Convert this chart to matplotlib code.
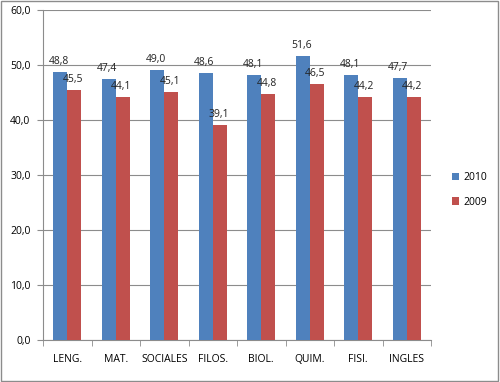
import matplotlib.pyplot as plt
import numpy as np
from matplotlib.patches import Rectangle

plt.rcParams['font.family'] = ['Open Sans', 'DejaVu Sans']

# data
categories = ['LENG.', 'MAT.', 'SOCIALES', 'FILOS.', 'BIOL.', 'QUIM.', 'FISI.', 'INGLES']
values_2010 = [48.8, 47.4, 49.0, 48.6, 48.1, 51.6, 48.1, 47.7]
values_2009 = [45.5, 44.1, 45.1, 39.1, 44.8, 46.5, 44.2, 44.2]
series_names = ['2010', '2009']
y_ticks = [0, 10, 20, 30, 40, 50, 60]

blue = '#4f81bd'
red = '#c0504d'


def fmt(v):
    return ('%.1f' % v).replace('.', ',')


def main():
    fig = plt.figure(figsize=(5, 3.82), dpi=100)
    ax = fig.add_axes([0.086, 0.11, 0.776, 0.864])

    x = np.arange(len(categories))
    w = 0.29
    b1 = ax.bar(x - w / 2, values_2010, w, color=blue, label=series_names[0], zorder=3)
    b2 = ax.bar(x + w / 2, values_2009, w, color=red, label=series_names[1], zorder=3)

    for bars, vals in ((b1, values_2010), (b2, values_2009)):
        for bar, v in zip(bars, vals):
            ax.text(bar.get_x() + bar.get_width() / 2 - 0.03, v + 0.9, fmt(v),
                    ha='center', va='bottom', fontsize=7.5, color='#222222', zorder=4)

    ax.set_xlim(-0.5, len(categories) - 0.5)
    ax.set_ylim(0, 60)
    ax.set_yticks(y_ticks)
    ax.set_yticklabels([fmt(t) for t in y_ticks])
    ax.set_xticks(x)
    ax.set_xticklabels(categories)
    ax.set_xticks(np.arange(len(categories) + 1) - 0.5, minor=True)

    ax.grid(axis='y', color='#8c8c8c', linewidth=0.8, zorder=0)
    for s in ('top', 'right'):
        ax.spines[s].set_visible(False)
    for s in ('left', 'bottom'):
        ax.spines[s].set_color('#8c8c8c')
    ax.tick_params(axis='x', which='major', length=0, pad=10, labelsize=7.5)
    ax.tick_params(axis='x', which='minor', length=4, color='#8c8c8c')
    ax.tick_params(axis='y', length=4, color='#8c8c8c', labelsize=7.5, pad=5)

    ax.legend(loc='center left', bbox_to_anchor=(1.03, 0.455), frameon=False,
              fontsize=7.5, handlelength=0.7, handleheight=0.7, labelspacing=1.3,
              handletextpad=0.4)

    # outer frame
    fig.patches.append(Rectangle((0.002, 0.003), 0.994, 0.994, transform=fig.transFigure,
                                 fill=False, edgecolor='#8c8c8c', linewidth=1))

    fig.savefig('out.png', dpi=100)


if __name__ == "__main__":
    main()
